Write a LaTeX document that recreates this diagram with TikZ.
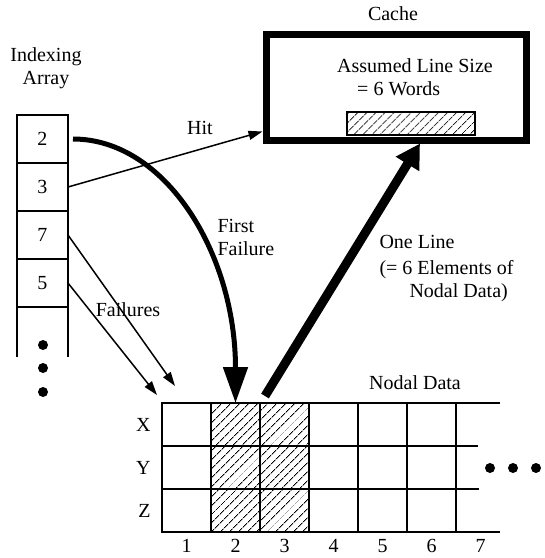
\documentclass[tikz,border=0pt]{standalone}
\usepackage{fontspec}
\setmainfont{Liberation Serif}
\usetikzlibrary{arrows.meta,patterns.meta,positioning}

\begin{document}
\begin{tikzpicture}[x=1pt,y=-1pt,
  every node/.style={font=\fontsize{20}{23}\selectfont},
  idx/.style={draw,line width=1.8pt,minimum width=51pt,minimum height=48pt,inner sep=0pt,outer sep=0pt},
  cell/.style={draw,line width=1.5pt,minimum width=49pt,minimum height=43pt,inner sep=0pt,outer sep=0pt},
  hatch/.style={pattern={Lines[angle=45,distance=6.5pt,line width=1.1pt]}},
  shaded/.style={cell,hatch},
  thin arrow/.style={line width=1.5pt,-{Triangle[length=14pt,width=9pt]}},
  fat arrow/.style={line width=5pt,-{Triangle[length=36pt,width=24pt]}},
  fatter arrow/.style={line width=9pt,-{Triangle[length=24pt,width=26pt]}}]
  \useasboundingbox (0,0) rectangle (545,558);

  % indexing array
  \node[align=center] (idxlbl) at (46,68) {Indexing\\Array};
  \foreach \v [count=\i] in {2,3,7,5}
    \node[idx] (i\i) at (42.5,{115+48*(\i-0.5)}) {\v};
  \draw[line width=1.8pt] (i4.south west) -- ++(0,50) (i4.south east) -- ++(0,50);
  \foreach \y in {345,368,392}
    \fill (43,\y) circle (5pt);

  % cache
  \node (cachelbl) at (393,14) {Cache};
  \node[draw,line width=7pt,minimum width=260pt,minimum height=105.5pt] (cache) at (396,87.25) {};
  \node[align=left] (size) at (415,77) {Assumed Line Size\\\hspace*{20pt}= 6 Words};
  \node[draw,line width=1.5pt,hatch,minimum width=128pt,minimum height=23pt,inner sep=0pt] (cline) at (411,123.5) {};

  % nodal data
  \node (nodal) at (415,383) {Nodal Data};
  \foreach \c/\k in {1/cell,2/shaded,3/shaded,4/cell,5/cell,6/cell}
    \foreach \r in {1,2,3}
      \node[\k] (d\c\r) at ({162+49*(\c-0.5)},{403+43*(\r-0.5)}) {};
  \draw[line width=1.5pt] (d61.south east) -- ++(22,0) (d62.south east) -- ++(23,0);
  \draw[line width=2.8pt] ([xshift=44pt]d61.north east) -- (d11.north west)
    -- (d13.south west) -- ([xshift=44pt]d63.south east);
  \draw[line width=2.8pt] (d21.north west) rectangle (d33.south east);
  \foreach \r/\l in {1/X,2/Y,3/Z}
    \node[left=8pt of d1\r] (row\r) {\l};
  \foreach \c in {1,...,7}
    \node[inner sep=1pt] (col\c) at ({162+49*(\c-0.5)},546) {\c};
  \foreach \x in {490,513,536}
    \fill (\x,468) circle (5pt);

  % arrows
  \draw[thin arrow] (i2.east) -- ([yshift=12pt]cache.south west);
  \node (hitlbl) at (200,128) {Hit};
  \draw[fat arrow] ([xshift=5pt]i1.east) .. controls +(92,0) and +(0,-150) .. (d21.north);
  \node[align=left,anchor=west] (fflbl) at (214,237) {First\\Failure};
  \draw[thin arrow] (i3.east) -- ([xshift=13pt,yshift=17pt]d11.north west);
  \draw[thin arrow] (i4.east) -- ([xshift=-5pt,yshift=8pt]d11.north west);
  \node (faillbl) at (128,310) {Failures};
  \draw[fatter arrow] ([xshift=5pt,yshift=7pt]d31.north west) -- ([xshift=24pt]cache.south);
  \node[align=left,anchor=west] (linelbl) at (376,269) {One Line\\[3pt](= 6 Elements of\\\hspace*{30pt}Nodal Data)};
\end{tikzpicture}
\end{document}
